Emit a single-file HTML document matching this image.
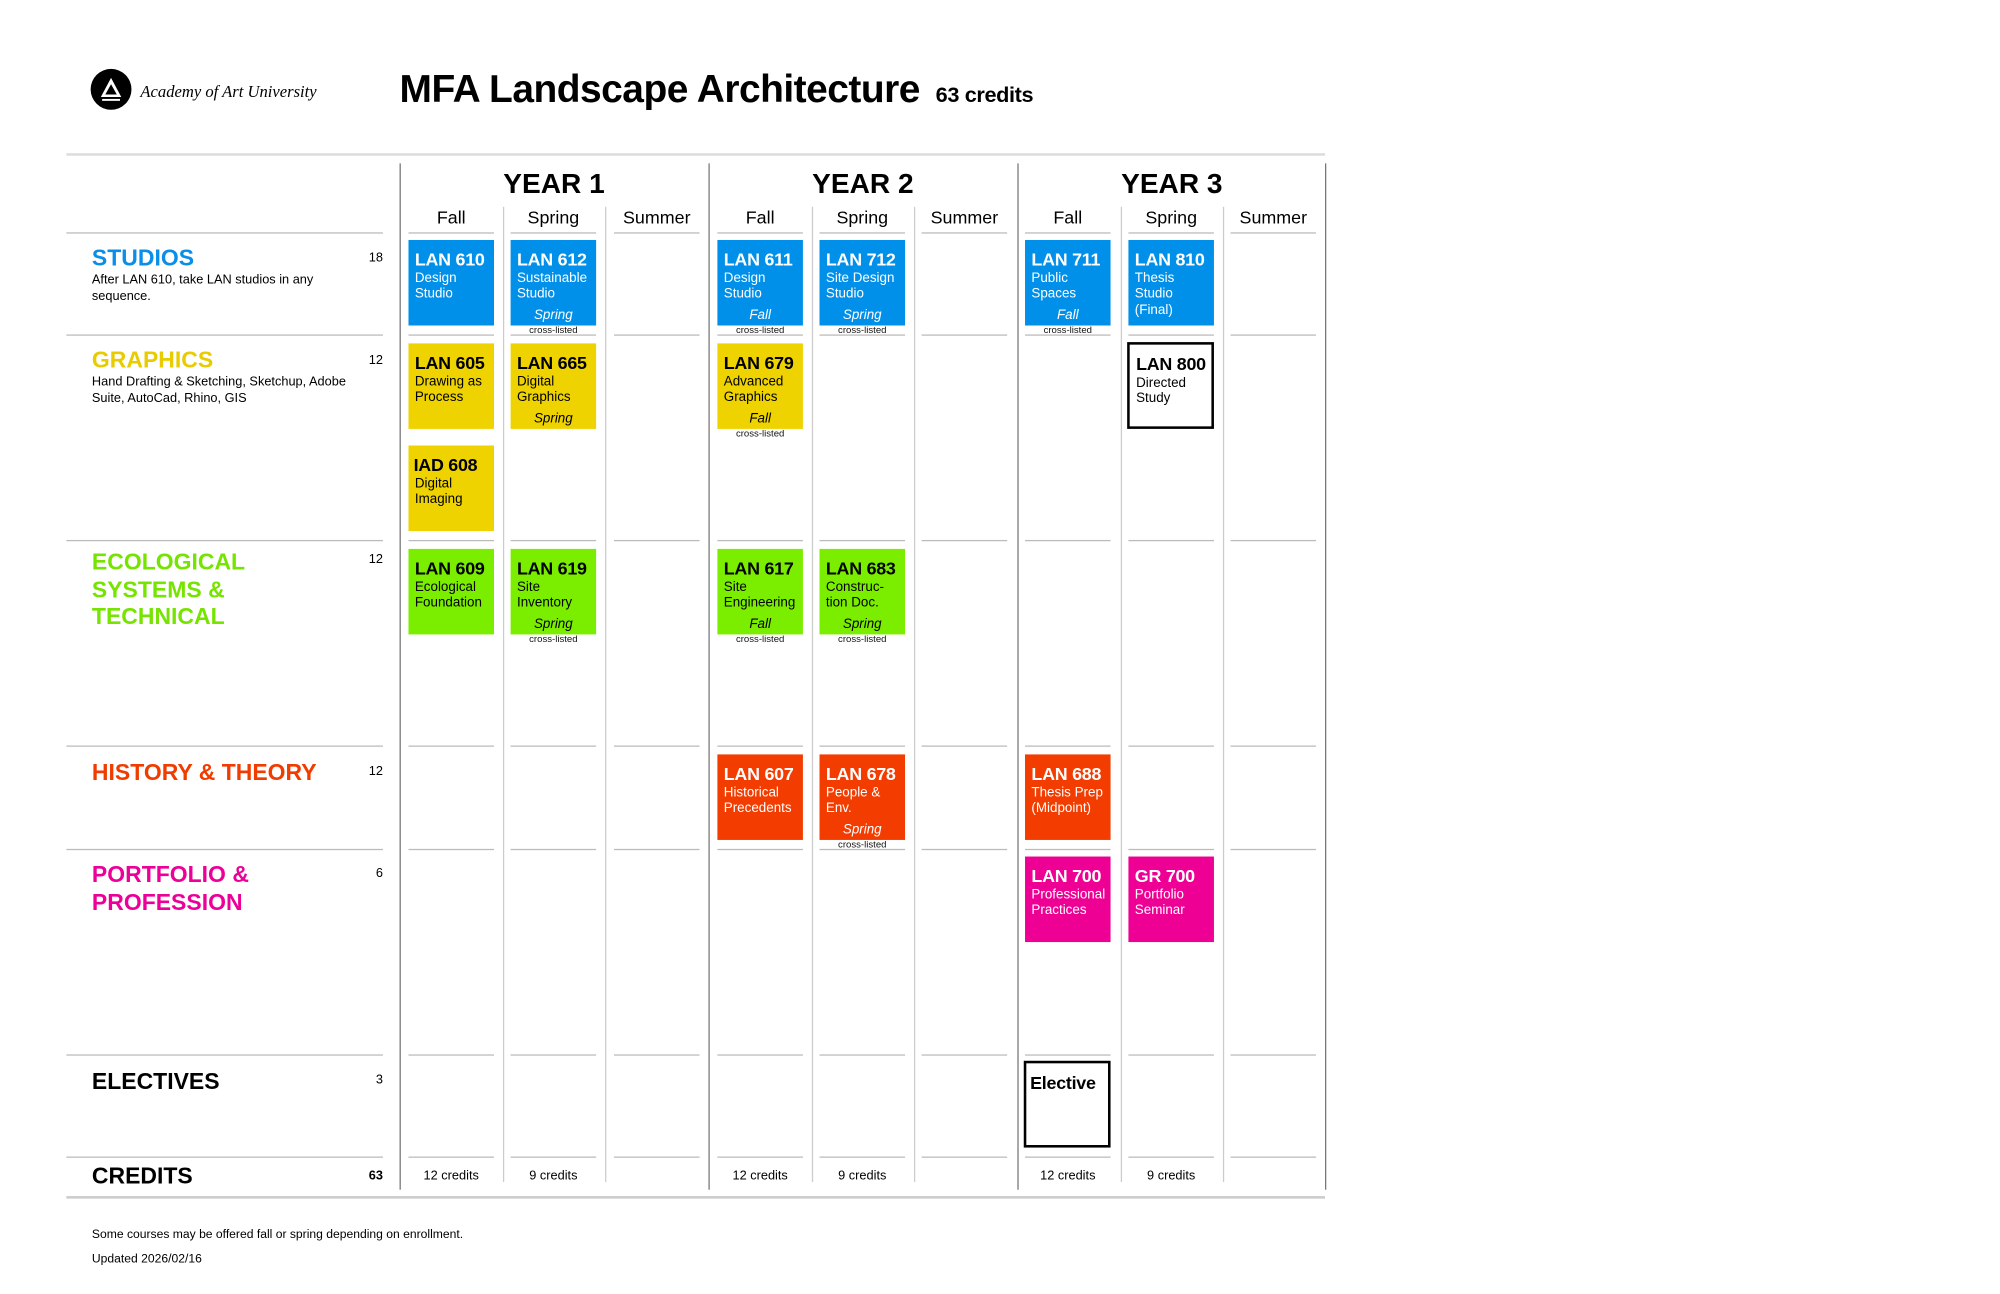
<!DOCTYPE html>
<html><head><meta charset="utf-8"><style>
html,body{margin:0;padding:0;background:#fff;}
body{width:2000px;height:1294px;overflow:hidden;position:relative;font-family:"Liberation Sans",Arial,sans-serif;}
#w{position:absolute;left:0;top:0;width:1570px;height:1014px;transform:scale(1.2765);transform-origin:0 0;}
#w div{position:absolute;}
.h{height:1px;background:#bbb;width:67px;}
.v{width:1px;background:#ccc;top:162px;height:764px;}
.V{width:1px;background:#777;top:128px;height:804px;}
.yr{top:131px;width:242px;text-align:center;font-weight:bold;font-size:22px;}
.se{top:162px;width:67px;text-align:center;font-size:14px;}
.lt{left:72px;font-weight:bold;font-size:18px;line-height:21.5px;}
.ln{left:270px;width:30px;text-align:right;font-size:10px;}
.ls{left:72px;font-size:10px;line-height:13px;width:200px;}
.b{width:67px;height:67px;}
.b .c{left:5px;top:7px;font-weight:bold;font-size:14px;white-space:nowrap;letter-spacing:-0.2px;}
.b .d{left:5px;top:24px;font-size:10.5px;line-height:12.3px;white-space:nowrap;}
.b .s{left:0;width:67px;top:53px;text-align:center;font-style:italic;font-size:10.5px;}
.b .x{left:0;width:67px;top:66px;text-align:center;font-size:7.5px;color:#111;}
.bl{background:#0090ea;color:#fff;}
.ye{background:#eed300;color:#000;}
.gr{background:#7bee00;color:#000;}
.or{background:#f23c00;color:#fff;}
.pk{background:#ee0095;color:#fff;}
.ou{background:#fff;border:2px solid #000;width:64px;height:64px;color:#000;}
.cr{top:916px;width:67px;text-align:center;font-size:10px;}
</style></head><body><div id="w">
<div style="left:71px;top:54px;width:32px;height:32px;border-radius:50%;background:#000;"></div>
<svg style="position:absolute;left:71px;top:54px" width="32" height="32"><path d="M16 7 L24 22 L8 22 Z M16 12 L11.5 20 L20.5 20 Z" fill="#fff" fill-rule="evenodd"/><rect x="9" y="23.5" width="14" height="1.5" fill="#fff"/></svg>
<div style="left:110px;top:64px;font-family:'Liberation Serif',serif;font-style:italic;font-size:13px;">Academy of Art University</div>
<div style="left:313px;top:53px;font-weight:bold;font-size:30.5px;letter-spacing:-0.4px;">MFA Landscape Architecture</div>
<div style="left:733px;top:65px;font-weight:bold;font-size:17px;letter-spacing:-0.3px;">63 credits</div>
<div style="left:52px;top:120px;width:986px;height:2px;background:#ddd;"></div>
<div style="left:52px;top:937px;width:986px;height:2px;background:#ccc;"></div>
<div class="V" style="left:313px"></div><div class="V" style="left:555px"></div><div class="V" style="left:797px"></div><div class="V" style="left:1038px"></div>
<div class="v" style="left:394px"></div><div class="v" style="left:474px"></div><div class="v" style="left:636px"></div><div class="v" style="left:716px"></div><div class="v" style="left:878px"></div><div class="v" style="left:958px"></div>
<div class="yr" style="left:313px">YEAR 1</div><div class="yr" style="left:555px">YEAR 2</div><div class="yr" style="left:797px">YEAR 3</div>
<div class="se" style="left:320px">Fall</div><div class="se" style="left:400px">Spring</div><div class="se" style="left:481px">Summer</div>
<div class="se" style="left:562px">Fall</div><div class="se" style="left:642px">Spring</div><div class="se" style="left:722px">Summer</div>
<div class="se" style="left:803px">Fall</div><div class="se" style="left:884px">Spring</div><div class="se" style="left:964px">Summer</div>
<div class="h" style="left:52px;width:248px;top:182px"></div><div class="h" style="left:320px;top:182px"></div><div class="h" style="left:400px;top:182px"></div><div class="h" style="left:481px;top:182px"></div><div class="h" style="left:562px;top:182px"></div><div class="h" style="left:642px;top:182px"></div><div class="h" style="left:722px;top:182px"></div><div class="h" style="left:803px;top:182px"></div><div class="h" style="left:884px;top:182px"></div><div class="h" style="left:964px;top:182px"></div>
<div class="h" style="left:52px;width:248px;top:262px"></div><div class="h" style="left:320px;top:262px"></div><div class="h" style="left:400px;top:262px"></div><div class="h" style="left:481px;top:262px"></div><div class="h" style="left:562px;top:262px"></div><div class="h" style="left:642px;top:262px"></div><div class="h" style="left:722px;top:262px"></div><div class="h" style="left:803px;top:262px"></div><div class="h" style="left:884px;top:262px"></div><div class="h" style="left:964px;top:262px"></div>
<div class="h" style="left:52px;width:248px;top:423px"></div><div class="h" style="left:320px;top:423px"></div><div class="h" style="left:400px;top:423px"></div><div class="h" style="left:481px;top:423px"></div><div class="h" style="left:562px;top:423px"></div><div class="h" style="left:642px;top:423px"></div><div class="h" style="left:722px;top:423px"></div><div class="h" style="left:803px;top:423px"></div><div class="h" style="left:884px;top:423px"></div><div class="h" style="left:964px;top:423px"></div>
<div class="h" style="left:52px;width:248px;top:584px"></div><div class="h" style="left:320px;top:584px"></div><div class="h" style="left:400px;top:584px"></div><div class="h" style="left:481px;top:584px"></div><div class="h" style="left:562px;top:584px"></div><div class="h" style="left:642px;top:584px"></div><div class="h" style="left:722px;top:584px"></div><div class="h" style="left:803px;top:584px"></div><div class="h" style="left:884px;top:584px"></div><div class="h" style="left:964px;top:584px"></div>
<div class="h" style="left:52px;width:248px;top:665px"></div><div class="h" style="left:320px;top:665px"></div><div class="h" style="left:400px;top:665px"></div><div class="h" style="left:481px;top:665px"></div><div class="h" style="left:562px;top:665px"></div><div class="h" style="left:642px;top:665px"></div><div class="h" style="left:722px;top:665px"></div><div class="h" style="left:803px;top:665px"></div><div class="h" style="left:884px;top:665px"></div><div class="h" style="left:964px;top:665px"></div>
<div class="h" style="left:52px;width:248px;top:826px"></div><div class="h" style="left:320px;top:826px"></div><div class="h" style="left:400px;top:826px"></div><div class="h" style="left:481px;top:826px"></div><div class="h" style="left:562px;top:826px"></div><div class="h" style="left:642px;top:826px"></div><div class="h" style="left:722px;top:826px"></div><div class="h" style="left:803px;top:826px"></div><div class="h" style="left:884px;top:826px"></div><div class="h" style="left:964px;top:826px"></div>
<div class="h" style="left:52px;width:248px;top:906px"></div><div class="h" style="left:320px;top:906px"></div><div class="h" style="left:400px;top:906px"></div><div class="h" style="left:481px;top:906px"></div><div class="h" style="left:562px;top:906px"></div><div class="h" style="left:642px;top:906px"></div><div class="h" style="left:722px;top:906px"></div><div class="h" style="left:803px;top:906px"></div><div class="h" style="left:884px;top:906px"></div><div class="h" style="left:964px;top:906px"></div>
<div class="lt" style="top:192px;color:#0a8fe8">STUDIOS</div><div class="ln" style="top:197px">18</div>
<div class="ls" style="top:213px">After LAN 610, take LAN studios in any sequence.</div>
<div class="lt" style="top:272px;color:#e8cc00">GRAPHICS</div><div class="ln" style="top:277px">12</div>
<div class="ls" style="top:293px">Hand Drafting &amp; Sketching, Sketchup, Adobe Suite, AutoCad, Rhino, GIS</div>
<div class="lt" style="top:430px;color:#76e400">ECOLOGICAL<br>SYSTEMS &amp;<br>TECHNICAL</div><div class="ln" style="top:433px">12</div>
<div class="lt" style="top:595px;color:#f03c00">HISTORY &amp; THEORY</div><div class="ln" style="top:599px">12</div>
<div class="lt" style="top:675px;color:#ec0098">PORTFOLIO &amp;<br>PROFESSION</div><div class="ln" style="top:679px">6</div>
<div class="lt" style="top:837px;color:#000">ELECTIVES</div><div class="ln" style="top:841px">3</div>
<div class="lt" style="top:911px;color:#000">CREDITS</div><div class="ln" style="top:916px;font-weight:bold">63</div>
<div class="b bl" style="left:320px;top:188px"><div class="c">LAN 610</div><div class="d">Design<br>Studio</div></div>
<div class="b bl" style="left:400px;top:188px"><div class="c">LAN 612</div><div class="d">Sustainable<br>Studio</div><div class="s">Spring</div><div class="x">cross-listed</div></div>
<div class="b bl" style="left:562px;top:188px"><div class="c">LAN 611</div><div class="d">Design<br>Studio</div><div class="s">Fall</div><div class="x">cross-listed</div></div>
<div class="b bl" style="left:642px;top:188px"><div class="c">LAN 712</div><div class="d">Site Design<br>Studio</div><div class="s">Spring</div><div class="x">cross-listed</div></div>
<div class="b bl" style="left:803px;top:188px"><div class="c">LAN 711</div><div class="d">Public<br>Spaces</div><div class="s">Fall</div><div class="x">cross-listed</div></div>
<div class="b bl" style="left:884px;top:188px"><div class="c">LAN 810</div><div class="d">Thesis<br>Studio<br>(Final)</div></div>
<div class="b ye" style="left:320px;top:269px"><div class="c">LAN 605</div><div class="d">Drawing as<br>Process</div></div>
<div class="b ye" style="left:400px;top:269px"><div class="c">LAN 665</div><div class="d">Digital<br>Graphics</div><div class="s">Spring</div></div>
<div class="b ye" style="left:562px;top:269px"><div class="c">LAN 679</div><div class="d">Advanced<br>Graphics</div><div class="s">Fall</div><div class="x">cross-listed</div></div>
<div class="b ou" style="left:883px;top:268px"><div class="c">LAN 800</div><div class="d">Directed<br>Study</div></div>
<div class="b ye" style="left:320px;top:349px"><div class="c" style="left:4px">IAD 608</div><div class="d">Digital<br>Imaging</div></div>
<div class="b gr" style="left:320px;top:430px"><div class="c">LAN 609</div><div class="d">Ecological<br>Foundation</div></div>
<div class="b gr" style="left:400px;top:430px"><div class="c">LAN 619</div><div class="d">Site<br>Inventory</div><div class="s">Spring</div><div class="x">cross-listed</div></div>
<div class="b gr" style="left:562px;top:430px"><div class="c">LAN 617</div><div class="d">Site<br>Engineering</div><div class="s">Fall</div><div class="x">cross-listed</div></div>
<div class="b gr" style="left:642px;top:430px"><div class="c">LAN 683</div><div class="d">Construc-<br>tion Doc.</div><div class="s">Spring</div><div class="x">cross-listed</div></div>
<div class="b or" style="left:562px;top:591px"><div class="c">LAN 607</div><div class="d">Historical<br>Precedents</div></div>
<div class="b or" style="left:642px;top:591px"><div class="c">LAN 678</div><div class="d">People &amp;<br>Env.</div><div class="s">Spring</div><div class="x">cross-listed</div></div>
<div class="b or" style="left:803px;top:591px"><div class="c">LAN 688</div><div class="d">Thesis Prep<br>(Midpoint)</div></div>
<div class="b pk" style="left:803px;top:671px"><div class="c">LAN 700</div><div class="d">Professional<br>Practices</div></div>
<div class="b pk" style="left:884px;top:671px"><div class="c">GR 700</div><div class="d">Portfolio<br>Seminar</div></div>
<div class="b ou" style="left:802px;top:831px"><div class="c" style="left:3px">Elective</div></div>
<div class="cr" style="left:320px">12 credits</div><div class="cr" style="left:400px">9 credits</div>
<div class="cr" style="left:562px">12 credits</div><div class="cr" style="left:642px">9 credits</div>
<div class="cr" style="left:803px">12 credits</div><div class="cr" style="left:884px">9 credits</div>
<div style="left:72px;top:962px;font-size:9.5px;">Some courses may be offered fall or spring depending on enrollment.</div>
<div style="left:72px;top:981px;font-size:9.5px;">Updated 2026/02/16</div>
</div></body></html>
